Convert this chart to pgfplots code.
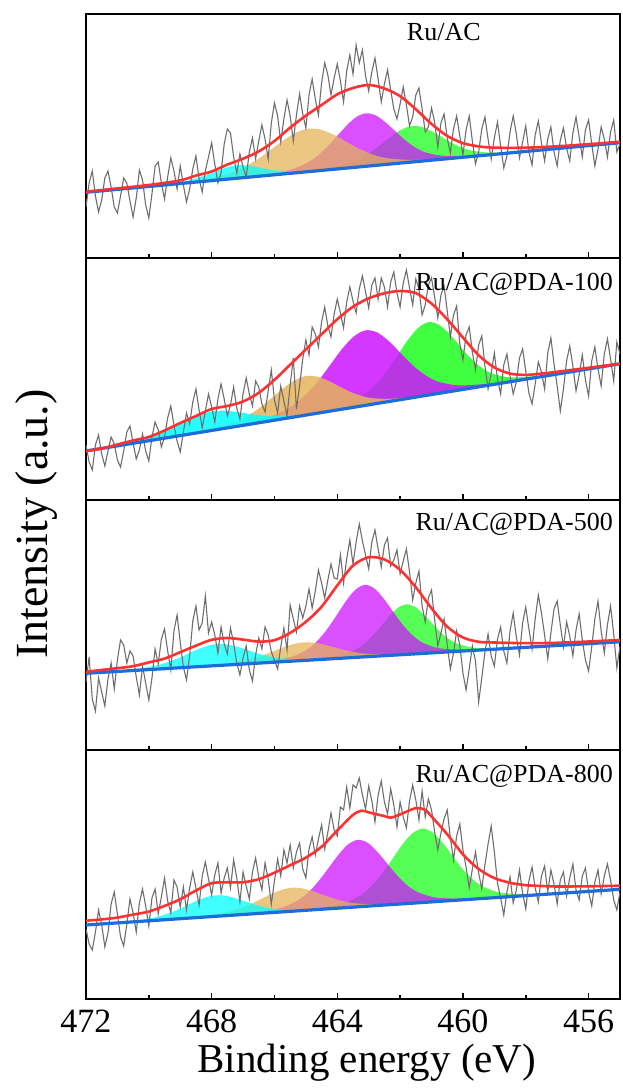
\documentclass[border=0pt]{standalone}
\usepackage{fontspec}
\setmainfont{Liberation Serif}
\usepackage{pgfplots}
\pgfplotsset{compat=1.18}

\definecolor{cy}{RGB}{0,255,255}
\definecolor{og}{RGB}{228,180,90}
\definecolor{mg}{RGB}{205,20,255}
\definecolor{gn}{RGB}{30,255,30}
\definecolor{rl}{RGB}{255,50,50}
\definecolor{bl}{RGB}{28,108,218}
\definecolor{gr}{RGB}{110,110,110}

\tikzset{lab/.style={inner sep=0pt, font=\rmfamily\fontsize{26}{26}\selectfont}}
\pgfplotsset{
  panel/.style={
    scale only axis, width=534pt,
    xmin=455, xmax=472, x dir=reverse,
    ymin=0,
    axis line style={line width=2pt},
    xtick={456,460,464,468,472},
    minor xtick={458,462,466,470},
    xtick pos=bottom, tick align=inside,
    major tick length=6pt, minor tick length=3.5pt,
    tick style={black, line width=1.5pt},
    ytick=\empty,
    anchor=south west,
  },
  pk/.style={draw=none, fill=#1, fill opacity=0.75, smooth, tension=0.5},
  raw/.style={gr, line width=1.1pt},
  env/.style={rl, line width=2.6pt, smooth},
  base/.style={bl, line width=3.2pt},
}

\begin{document}
\begin{tikzpicture}
\useasboundingbox (0,0) rectangle (622pt,1089pt);

% ---------------- Panel 1: Ru/AC ----------------
\begin{axis}[panel, height=244pt, ymax=244, at={(86pt,831pt)}, xticklabels={}]
\addplot[pk=gn] coordinates {(457.8,107.1)(458.75,105.6)(459.225,105.5)(459.7,107.2)(460.02,110.2)(460.33,114.7)(460.65,120.5)(460.97,126.3)(461.28,130.8)(461.6,132.0)(461.92,129.0)(462.23,122.7)(462.55,114.9)(462.87,107.3)(463.18,101.0)(463.5,96.2)(463.975,91.7)(464.45,89.0)(465.4,84.9)} -- cycle;
\addplot[pk=mg] coordinates {(459.29,102.8)(460.24,101.9)(460.715,102.4)(461.19,105.6)(461.51,110.4)(461.82,117.4)(462.14,126.4)(462.46,135.5)(462.77,142.5)(463.09,144.7)(463.41,140.7)(463.72,131.9)(464.04,120.8)(464.36,110.0)(464.67,101.2)(464.99,94.6)(465.465,88.6)(465.94,85.3)(466.89,80.6)} -- cycle;
\addplot[pk=og] coordinates {(460.09,100.4)(461.29,98.4)(461.89,98.3)(462.49,100.2)(462.89,103.6)(463.29,109.0)(463.69,115.8)(464.09,122.8)(464.49,128.1)(464.89,129.4)(465.29,125.7)(465.69,118.2)(466.09,108.8)(466.49,99.6)(466.89,92.0)(467.29,86.2)(467.89,80.8)(468.49,77.4)(469.69,72.4)} -- cycle;
\addplot[pk=cy] coordinates {(464.0,89.0)(464.8,87.2)(465.2,86.4)(465.6,86.5)(465.867,87.1)(466.133,88.2)(466.4,89.8)(466.667,91.6)(466.933,92.7)(467.2,92.7)(467.467,91.1)(467.733,88.4)(468.0,85.2)(468.267,82.0)(468.533,79.3)(468.8,77.1)(469.2,74.8)(469.6,73.2)(470.4,70.4)} -- cycle;
\addplot[raw] coordinates {
(472,51)(471.9,75)(471.8,87)(471.7,62)(471.6,46)(471.5,58)(471.4,80)(471.3,87)(471.2,71)(471.1,51)
(471,45)(470.9,62)(470.8,80)(470.7,75)(470.6,57)(470.5,41)(470.4,60)(470.3,88)(470.2,78)(470.1,53)
(470,40)(469.9,64)(469.8,92)(469.7,96)(469.6,75)(469.5,59)(469.4,81)(469.3,100)(469.2,87)(469.1,69)
(469,92)(468.9,73)(468.8,56)(468.7,69)(468.6,89)(468.5,102)(468.4,79)(468.3,66)(468.2,87)(468.1,101)
(468,115)(467.9,94)(467.8,75)(467.7,85)(467.6,114)(467.5,129)(467.4,125)(467.3,101)(467.2,85)(467.1,104)
(467,91)(466.9,81)(466.8,106)(466.7,120)(466.6,99)(466.5,117)(466.4,133)(466.3,119)(466.2,99)(466.1,135)
(466,155)(465.9,142)(465.8,116)(465.7,139)(465.6,158)(465.5,142)(465.4,117)(465.3,143)(465.2,164)(465.1,144)
(465,130)(464.9,163)(464.8,179)(464.7,159)(464.6,143)(464.5,175)(464.4,195)(464.3,183)(464.2,163)(464.1,180)
(464,194)(463.9,177)(463.8,156)(463.7,187)(463.6,203)(463.5,184)(463.4,213)(463.3,195)(463.2,208)(463.1,182)
(463,167)(462.9,186)(462.8,200)(462.7,179)(462.6,156)(462.5,174)(462.4,188)(462.3,168)(462.2,149)(462.1,139)
(462,154)(461.9,171)(461.8,153)(461.7,132)(461.6,141)(461.5,163)(461.4,170)(461.3,149)(461.2,126)(461.1,131)
(461,150)(460.9,136)(460.8,111)(460.7,135)(460.6,144)(460.5,120)(460.4,105)(460.3,129)(460.2,142)(460.1,122)
(460,103)(459.9,128)(459.8,142)(459.7,117)(459.6,94)(459.5,106)(459.4,129)(459.3,141)(459.2,119)(459.1,99)
(459,120)(458.9,136)(458.8,112)(458.7,90)(458.6,102)(458.5,126)(458.4,142)(458.3,124)(458.2,100)(458.1,116)
(458,132)(457.9,106)(457.8,93)(457.7,123)(457.6,137)(457.5,115)(457.4,97)(457.3,119)(457.2,131)(457.1,106)
(457,92)(456.9,118)(456.8,130)(456.7,110)(456.6,97)(456.5,125)(456.4,141)(456.3,121)(456.2,101)(456.1,128)
(456,138)(455.9,114)(455.8,92)(455.7,109)(455.6,131)(455.5,119)(455.4,101)(455.3,126)(455.2,138)(455.1,106)
(455,114)};
\addplot[base] coordinates {(472,65.7)(455,115.3)};
\addplot[env] coordinates {(472,66.3)(471,69.6)(470,73)(469,77.6)(468.5,82.4)(468,86.5)(467.5,93.4)(467,99.3)(466.5,106.6)(466,117)(465.5,130.4)(465,142.4)(464.5,153)(464,163.6)(463.5,170)(463,173)(462.5,169.5)(462,161.8)(461.5,148.7)(461,134)(460.5,122)(460,114.8)(459.5,111.6)(459,110.3)(458,110.3)(457,111.7)(456,113.8)(455,116.2)};
\node[lab, anchor=north] at (rel axis cs:0.670,0.963) {Ru/AC};
\end{axis}

% ---------------- Panel 2: Ru/AC@PDA-100 ----------------
\begin{axis}[panel, height=242pt, ymax=242, at={(86pt,589pt)}, xticklabels={}]
\addplot[pk=gn, fill opacity=0.85] coordinates {(457.1,125.4)(458.1,122.9)(458.6,122.9)(459.1,126.8)(459.43,132.9)(459.77,142.1)(460.1,153.9)(460.43,166.1)(460.77,175.4)(461.1,177.9)(461.43,172.0)(461.77,159.3)(462.1,143.7)(462.43,128.5)(462.77,115.7)(463.1,106.2)(463.6,97.3)(464.1,92.1)(465.1,84.4)} -- cycle;
\addplot[pk=mg, fill opacity=0.85] coordinates {(458.5,118.3)(459.65,115.1)(460.225,114.8)(460.8,118.4)(461.18,124.5)(461.57,133.8)(461.95,145.8)(462.33,158.0)(462.72,167.4)(463.1,169.7)(463.48,163.4)(463.87,150.2)(464.25,134.0)(464.63,118.0)(465.02,104.9)(465.4,94.8)(465.975,85.3)(466.55,79.7)(467.7,71.1)} -- cycle;
\addplot[pk=og, fill opacity=0.85] coordinates {(460.8,106.5)(461.85,102.5)(462.375,101.2)(462.9,101.9)(463.25,104.3)(463.6,108.3)(463.95,113.8)(464.3,119.4)(464.65,123.4)(465.0,123.9)(465.35,119.8)(465.7,112.2)(466.05,103.0)(466.4,93.9)(466.75,86.3)(467.1,80.3)(467.625,74.2)(468.15,70.1)(469.2,63.3)} -- cycle;
\addplot[pk=cy, fill opacity=0.85] coordinates {(463.6,92.1)(464.7,87.1)(465.25,84.9)(465.8,83.8)(466.17,84.0)(466.53,84.9)(466.9,86.5)(467.27,88.3)(467.63,89.3)(468.0,88.5)(468.37,85.5)(468.73,80.7)(469.1,75.3)(469.47,69.9)(469.83,65.2)(470.2,61.2)(470.75,56.7)(471.3,53.3)(472.4,46.9)} -- cycle;
\addplot[raw] coordinates {
(472,55)(471.9,38)(471.8,30)(471.7,55)(471.6,65)(471.5,46)(471.4,34)(471.3,49)(471.2,63)(471.1,56)
(471,40)(470.9,33)(470.8,49)(470.7,68)(470.6,74)(470.5,57)(470.4,41)(470.3,50)(470.2,66)(470.1,49)
(470,39)(469.9,63)(469.8,78)(469.7,70)(469.6,53)(469.5,63)(469.4,82)(469.3,94)(469.2,75)(469.1,59)
(469,48)(468.9,68)(468.8,87)(468.7,76)(468.6,98)(468.5,111)(468.4,90)(468.3,72)(468.2,89)(468.1,106)
(468,93)(467.9,78)(467.8,101)(467.7,116)(467.6,101)(467.5,84)(467.4,95)(467.3,113)(467.2,92)(467.1,81)
(467,106)(466.9,122)(466.8,106)(466.7,94)(466.6,119)(466.5,113)(466.4,96)(466.3,88)(466.2,109)(466.1,130)
(466,100)(465.9,87)(465.8,114)(465.7,99)(465.6,84)(465.5,115)(465.4,142)(465.3,91)(465.2,114)(465.1,141)
(465,160)(464.9,145)(464.8,173)(464.7,166)(464.6,153)(464.5,178)(464.4,193)(464.3,174)(464.2,163)(464.1,186)
(464,201)(463.9,187)(463.8,172)(463.7,198)(463.6,213)(463.5,199)(463.4,187)(463.3,211)(463.2,224)(463.1,208)
(463,192)(462.9,215)(462.8,222)(462.7,201)(462.6,222)(462.5,213)(462.4,193)(462.3,218)(462.2,228)(462.1,207)
(462,193)(461.9,217)(461.8,230)(461.7,212)(461.6,195)(461.5,221)(461.4,211)(461.3,185)(461.2,195)(461.1,215)
(461,222)(460.9,203)(460.8,182)(460.7,205)(460.6,214)(460.5,189)(460.4,163)(460.3,185)(460.2,194)(460.1,156)
(460,140)(459.9,165)(459.8,173)(459.7,148)(459.6,130)(459.5,155)(459.4,164)(459.3,134)(459.2,111)(459.1,127)
(459,147)(458.9,121)(458.8,106)(458.7,135)(458.6,146)(458.5,124)(458.4,106)(458.3,118)(458.2,142)(458.1,151)
(458,129)(457.9,107)(457.8,96)(457.7,116)(457.6,138)(457.5,128)(457.4,111)(457.3,147)(457.2,162)(457.1,136)
(457,114)(456.9,89)(456.8,111)(456.7,139)(456.6,154)(456.5,134)(456.4,109)(456.3,125)(456.2,145)(456.1,120)
(456,104)(455.9,139)(455.8,153)(455.7,131)(455.6,114)(455.5,146)(455.4,161)(455.3,141)(455.2,119)(455.1,158)
(455,146)};
\addplot[base] coordinates {(472,49)(455,136.2)};
\addplot[env] coordinates {(472,49)(471.5,51.5)(471,55.5)(470.5,59.5)(470,63)(469.5,69.5)(469,77)(468.5,84)(468,91)(467.5,94)(467,98.5)(466.5,107.2)(466,120.2)(465.5,135.3)(465,150.5)(464.5,165.7)(464,180.8)(463.5,193.3)(463,201.7)(462.5,206.7)(462,209)(461.5,206.8)(461,196.4)(460.5,180.6)(460,162.4)(459.5,144.7)(459,132.5)(458.5,126.4)(458,125.1)(457.5,126.4)(457,128.2)(456,132.2)(455,136.2)};
\node[lab, anchor=north east] at (rel axis cs:0.987,0.936) {Ru/AC@PDA-100};
\end{axis}

% ---------------- Panel 3: Ru/AC@PDA-500 ----------------
\begin{axis}[panel, height=250pt, ymax=250, at={(86pt,339pt)}, xticklabels={}]
\addplot[pk=gn] coordinates {(458.6,101.5)(459.4,101.8)(459.8,102.9)(460.2,106.6)(460.47,111.4)(460.73,118.4)(461.0,127.2)(461.27,136.2)(461.53,143.2)(461.8,145.6)(462.07,142.2)(462.33,134.2)(462.6,124.2)(462.87,114.4)(463.13,106.4)(463.4,100.6)(463.8,95.5)(464.2,93.0)(465.0,89.8)} -- cycle;
\addplot[pk=mg] coordinates {(459.52,99.9)(460.42,100.8)(460.87,102.5)(461.32,107.9)(461.62,115.2)(461.92,125.4)(462.22,138.2)(462.52,151.3)(462.82,161.6)(463.12,165.2)(463.42,160.4)(463.72,149.1)(464.02,134.8)(464.32,121.0)(464.62,109.6)(464.92,101.3)(465.37,94.1)(465.82,90.8)(466.72,86.5)} -- cycle;
\addplot[pk=og] coordinates {(461.05,97.0)(462.05,95.8)(462.55,95.6)(463.05,96.2)(463.38,97.5)(463.72,99.6)(464.05,102.3)(464.38,105.1)(464.72,107.2)(465.05,107.6)(465.38,106.0)(465.72,102.7)(466.05,98.5)(466.38,94.6)(466.72,91.3)(467.05,88.8)(467.55,86.3)(468.05,84.6)(469.05,82.2)} -- cycle;
\addplot[pk=cy] coordinates {(463.8,91.9)(464.8,90.9)(465.3,90.7)(465.8,91.6)(466.13,93.3)(466.47,95.9)(466.8,99.3)(467.13,102.7)(467.47,105.4)(467.8,106.0)(468.13,104.2)(468.47,100.3)(468.8,95.5)(469.13,90.9)(469.47,87.1)(469.8,84.2)(470.3,81.4)(470.8,79.7)(471.8,77.1)} -- cycle;
\addplot[raw] coordinates {
(472,68)(471.9,93)(471.8,51)(471.7,39)(471.6,72)(471.5,58)(471.4,44)(471.3,71)(471.2,87)(471.1,61)
(471,90)(470.9,110)(470.8,105)(470.7,87)(470.6,99)(470.5,94)(470.4,73)(470.3,55)(470.2,84)(470.1,67)
(470,50)(469.9,72)(469.8,101)(469.7,86)(469.6,111)(469.5,121)(469.4,99)(469.3,80)(469.2,119)(469.1,135)
(469,108)(468.9,83)(468.8,70)(468.7,94)(468.6,129)(468.5,144)(468.4,120)(468.3,127)(468.2,154)(468.1,117)
(468,128)(467.9,115)(467.8,97)(467.7,123)(467.6,106)(467.5,96)(467.4,122)(467.3,107)(467.2,87)(467.1,75)
(467,92)(466.9,104)(466.8,80)(466.7,69)(466.6,95)(466.5,112)(466.4,101)(466.3,123)(466.2,115)(466.1,98)
(466,90)(465.9,81)(465.8,103)(465.7,122)(465.6,100)(465.5,145)(465.4,131)(465.3,118)(465.2,144)(465.1,132)
(465,144)(464.9,161)(464.8,142)(464.7,159)(464.6,180)(464.5,167)(464.4,152)(464.3,170)(464.2,186)(464.1,172)
(464,171)(463.9,195)(463.8,167)(463.7,191)(463.6,210)(463.5,186)(463.4,208)(463.3,226)(463.2,209)(463.1,195)
(463,181)(462.9,208)(462.8,220)(462.7,201)(462.6,183)(462.5,205)(462.4,212)(462.3,184)(462.2,190)(462.1,200)
(462,176)(461.9,189)(461.8,201)(461.7,178)(461.6,150)(461.5,167)(461.4,179)(461.3,144)(461.2,128)(461.1,152)
(461,160)(460.9,130)(460.8,104)(460.7,117)(460.6,131)(460.5,105)(460.4,81)(460.3,97)(460.2,119)(460.1,105)
(460,77)(459.9,60)(459.8,81)(459.7,104)(459.6,89)(459.5,48)(459.4,72)(459.3,98)(459.2,116)(459.1,94)
(459,84)(458.9,111)(458.8,123)(458.7,99)(458.6,87)(458.5,119)(458.4,137)(458.3,113)(458.2,95)(458.1,127)
(458,143)(457.9,121)(457.8,101)(457.7,131)(457.6,155)(457.5,137)(457.4,115)(457.3,91)(457.2,117)(457.1,141)
(457,149)(456.9,125)(456.8,103)(456.7,128)(456.6,114)(456.5,94)(456.4,120)(456.3,136)(456.2,110)(456.1,90)
(456,79)(455.9,103)(455.8,131)(455.7,149)(455.6,119)(455.5,97)(455.4,125)(455.3,144)(455.2,116)(455.1,82)
(455,104)};
\addplot[base] coordinates {(472,76.7)(455,108.2)};
\addplot[env] coordinates {(472,78.3)(471,81.8)(470.5,83.8)(470,87.6)(469.5,91.4)(469,97.8)(468.5,104.3)(468,110.2)(467.5,112)(467,110.4)(466.5,108.4)(466,109.8)(465.5,117.1)(465,128.2)(464.5,143.3)(464,164.6)(463.5,184.4)(463,192.7)(462.5,190.5)(462,180.1)(461.5,162.7)(461,141.7)(460.5,123.3)(460,112.5)(459.5,108.2)(459,107.5)(458,106.8)(457,107.2)(456,108.5)(455,110)};
\node[lab, anchor=north east] at (rel axis cs:0.987,0.947) {Ru/AC@PDA-500};
\end{axis}

% ---------------- Panel 4: Ru/AC@PDA-800 ----------------
\begin{axis}[panel, height=249pt, ymax=249, at={(86pt,90pt)},
  xticklabels={\textrm{456},\textrm{460},\textrm{464},\textrm{468},\textrm{472}},
  xticklabel style={font=\rmfamily\fontsize{34}{34}\selectfont, inner sep=0pt, anchor=base, yshift=-34pt},
  xlabel={Binding energy (eV)},
  xlabel style={font=\rmfamily\fontsize{41}{41}\selectfont, at={(axis description cs:0.526,-0.2932)}, anchor=base, inner sep=0pt}]
\addplot[pk=gn] coordinates {(457.42,104.5)(458.39,105.2)(458.875,106.8)(459.36,112.3)(459.68,119.5)(460.01,129.9)(460.33,142.9)(460.65,156.4)(460.98,166.8)(461.3,170.4)(461.62,165.4)(461.95,153.6)(462.27,138.9)(462.59,124.5)(462.92,112.7)(463.24,104.1)(463.725,96.6)(464.21,93.0)(465.18,88.3)} -- cycle;
\addplot[pk=mg] coordinates {(459.54,100.2)(460.49,100.6)(460.965,102.0)(461.44,106.9)(461.76,113.3)(462.07,122.8)(462.39,134.5)(462.71,146.6)(463.02,156.0)(463.34,159.2)(463.66,154.6)(463.97,144.0)(464.29,130.5)(464.61,117.4)(464.92,106.7)(465.24,98.9)(465.715,92.0)(466.19,88.6)(467.14,84.2)} -- cycle;
\addplot[pk=og] coordinates {(461.44,96.2)(462.44,94.9)(462.94,94.8)(463.44,95.7)(463.77,97.6)(464.11,100.4)(464.44,104.0)(464.77,107.8)(465.11,110.6)(465.44,111.3)(465.77,109.2)(466.11,105.0)(466.44,99.8)(466.77,94.8)(467.11,90.6)(467.44,87.3)(467.94,84.3)(468.44,82.3)(469.44,79.4)} -- cycle;
\addplot[pk=cy] coordinates {(464.06,90.7)(465.01,89.5)(465.485,89.2)(465.96,90.0)(466.28,91.6)(466.59,94.1)(466.91,97.3)(467.23,100.6)(467.54,103.2)(467.86,103.7)(468.18,101.8)(468.49,98.0)(468.81,93.3)(469.13,88.7)(469.44,85.0)(469.76,82.0)(470.235,79.2)(470.71,77.5)(471.66,74.7)} -- cycle;
\addplot[raw] coordinates {
(472,70)(471.9,55)(471.8,49)(471.7,67)(471.6,89)(471.5,74)(471.4,52)(471.3,66)(471.2,95)(471.1,107)
(471,85)(470.9,62)(470.8,53)(470.7,75)(470.6,100)(470.5,86)(470.4,67)(470.3,96)(470.2,110)(470.1,93)
(470,73)(469.9,101)(469.8,110)(469.7,85)(469.6,102)(469.5,121)(469.4,98)(469.3,86)(469.2,119)(469.1,112)
(469,92)(468.9,112)(468.8,89)(468.7,111)(468.6,127)(468.5,111)(468.4,94)(468.3,123)(468.2,137)(468.1,120)
(468,104)(467.9,124)(467.8,136)(467.7,106)(467.6,121)(467.5,131)(467.4,111)(467.3,139)(467.2,121)(467.1,97)
(467,127)(466.9,113)(466.8,100)(466.7,127)(466.6,141)(466.5,122)(466.4,109)(466.3,136)(466.2,120)(466.1,95)
(466,118)(465.9,140)(465.8,123)(465.7,149)(465.6,136)(465.5,154)(465.4,131)(465.3,147)(465.2,156)(465.1,130)
(465,121)(464.9,150)(464.8,162)(464.7,144)(464.6,160)(464.5,174)(464.4,150)(464.3,167)(464.2,186)(464.1,169)
(464,163)(463.9,192)(463.8,189)(463.7,212)(463.6,191)(463.5,214)(463.4,211)(463.3,221)(463.2,204)(463.1,190)
(463,213)(462.9,198)(462.8,177)(462.7,204)(462.6,218)(462.5,197)(462.4,185)(462.3,210)(462.2,194)(462.1,172)
(462,197)(461.9,182)(461.8,171)(461.7,198)(461.6,214)(461.5,199)(461.4,179)(461.3,208)(461.2,182)(461.1,200)
(461,189)(460.9,167)(460.8,149)(460.7,166)(460.6,180)(460.5,189)(460.4,161)(460.3,139)(460.2,163)(460.1,175)
(460,149)(459.9,132)(459.8,111)(459.7,130)(459.6,147)(459.5,126)(459.4,110)(459.3,134)(459.2,155)(459.1,173)
(459,147)(458.9,116)(458.8,101)(458.7,84)(458.6,107)(458.5,122)(458.4,96)(458.3,109)(458.2,129)(458.1,106)
(458,90)(457.9,118)(457.8,132)(457.7,111)(457.6,97)(457.5,123)(457.4,133)(457.3,107)(457.2,129)(457.1,115)
(457,95)(456.9,119)(456.8,127)(456.7,103)(456.6,121)(456.5,135)(456.4,109)(456.3,99)(456.2,123)(456.1,131)
(456,107)(455.9,93)(455.8,117)(455.7,129)(455.6,105)(455.5,123)(455.4,135)(455.3,119)(455.2,99)(455.1,89)
(455,107)};
\addplot[base] coordinates {(472,74)(455,109.7)};
\addplot[env] coordinates {(472,78.3)(471.5,79.6)(471,81.4)(470.5,84.4)(470,87.4)(469.5,93.1)(469,99.7)(468.5,108.5)(468,115.8)(467.5,116.7)(467,116.7)(466.5,119.8)(466,126.3)(465.5,133.8)(465,141.4)(464.5,152.3)(464,168.5)(463.5,184.1)(463.23,188.3)(463,186.6)(462.5,182.9)(462.3,181.3)(462,184.6)(461.5,190.9)(461.2,189)(461,182.5)(460.5,164.7)(460,144.6)(459.5,130)(459,120.9)(458.5,116.2)(458,113.8)(457.5,113)(457,112.5)(456,112.7)(455,113.3)};
\node[lab, anchor=north east] at (rel axis cs:0.987,0.94) {Ru/AC@PDA-800};
\end{axis}

\node[rotate=90, anchor=north, inner sep=0pt, font=\rmfamily\fontsize{46}{46}\selectfont] at (15pt,565pt) {Intensity (a.u.)};
\end{tikzpicture}
\end{document}
